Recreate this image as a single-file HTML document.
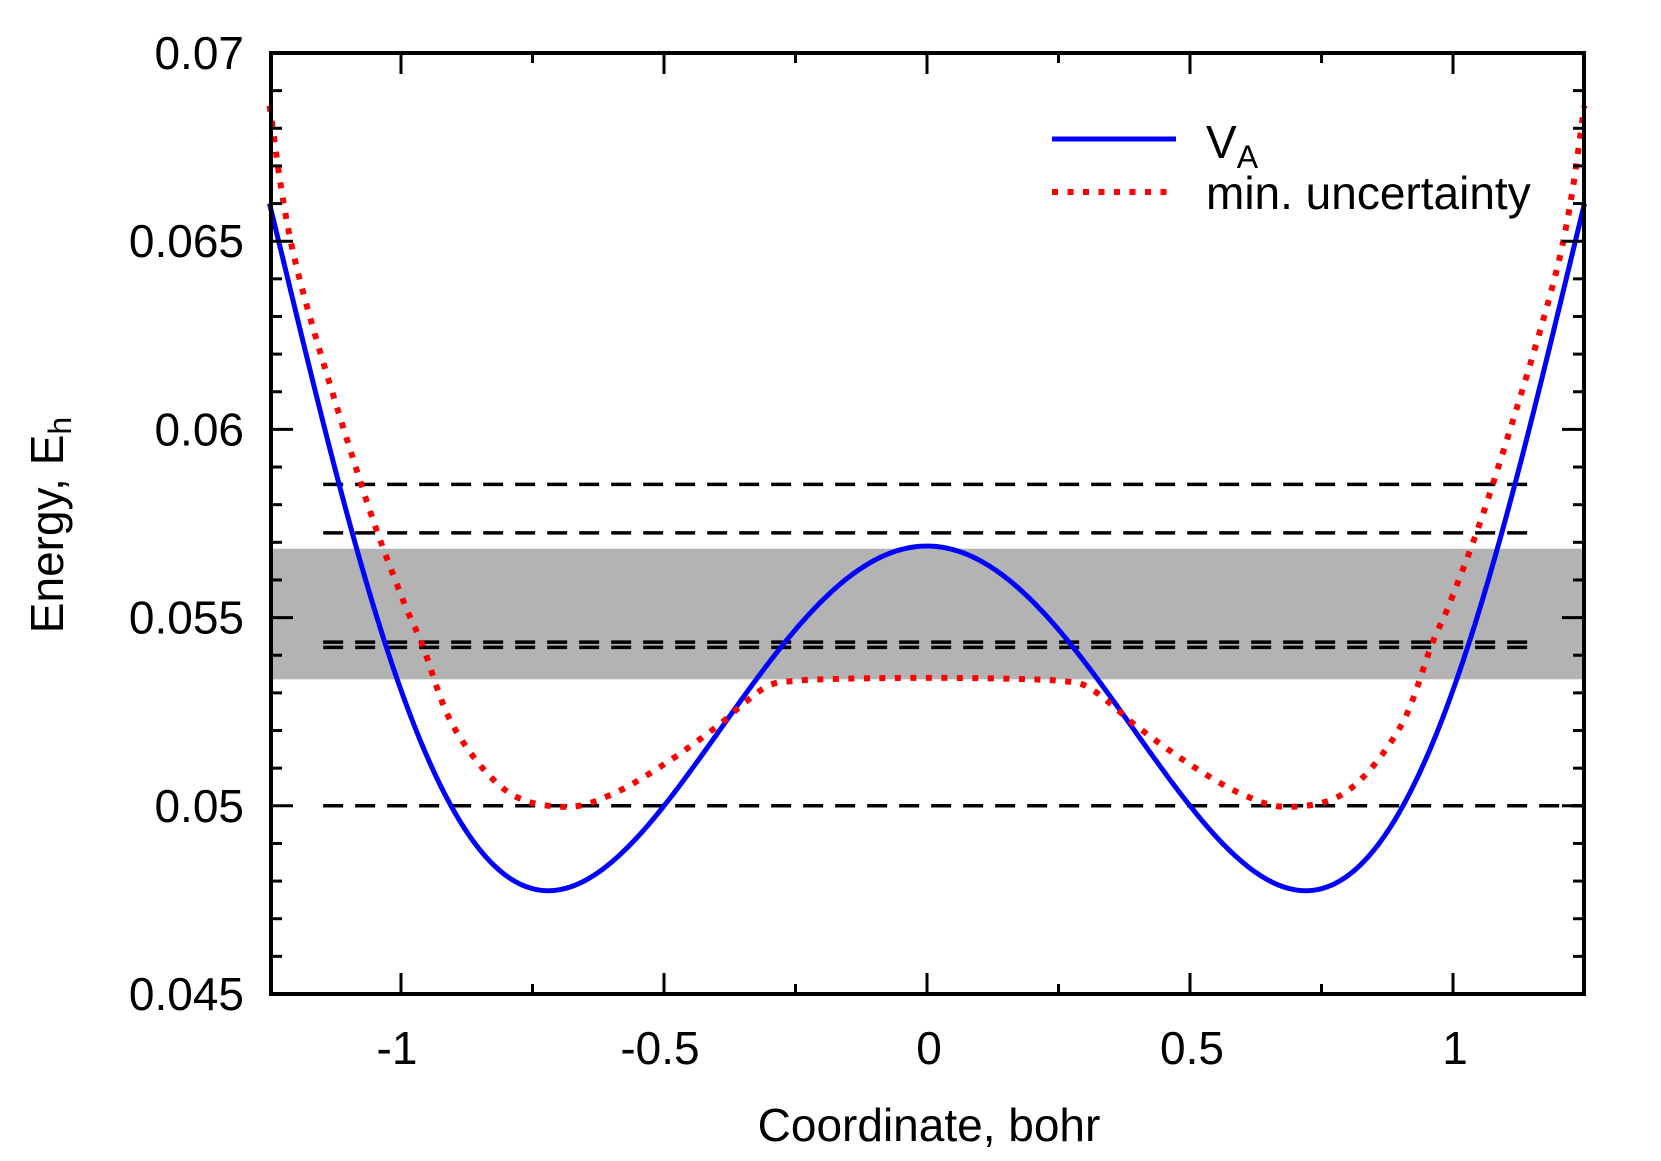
<!DOCTYPE html>
<html><head><meta charset="utf-8"><style>
html,body{margin:0;padding:0;background:#fff;}
svg{display:block;}
text{font-family:"Liberation Sans",sans-serif;font-size:46px;fill:#000;}
</style></head><body>
<svg id="s" width="1661" height="1161" viewBox="0 0 1661 1161" xmlns="http://www.w3.org/2000/svg">
<rect x="0" y="0" width="1661" height="1161" fill="#fff"/>
<g id="g"></g>
<text x="929" y="1141" text-anchor="middle">Coordinate, bohr</text>
<text transform="translate(63,525) rotate(-90)" text-anchor="middle">Energy, E<tspan font-size="32" dy="8">h</tspan></text>
<line x1="1052" y1="139" x2="1176" y2="139" stroke="#0000ff" stroke-width="5"/>
<line x1="1052" y1="192" x2="1176" y2="192" stroke="#ff0000" stroke-width="6" stroke-dasharray="6 9.5"/>
<text x="1206" y="158">V<tspan font-size="32" dy="10">A</tspan></text>
<text x="1206" y="209">min. uncertainty</text>
</svg>
<script>
var L=271,R=1584,T=53,B=994;
function X(x){return 927+x*526;}
function Y(v){return B-(v-0.045)/0.025*(B-T);}
var g=document.getElementById('g'),o='';
o+='<rect x="'+L+'" y="'+Y(0.05683)+'" width="'+(R-L)+'" height="'+(Y(0.05336)-Y(0.05683))+'" fill="#b3b3b3"/>';
[[0.05854,1.15],[0.05725,1.15],[0.05435,1.15],[0.05421,1.15],[0.05,1.25]].forEach(function(d){
 o+='<line x1="'+X(-1.148)+'" x2="'+X(d[1])+'" y1="'+Y(d[0])+'" y2="'+Y(d[0])+'" stroke="#000" stroke-width="3.5" stroke-dasharray="20 12"/>';});
var p='';
for(var i=0;i<=500;i++){var x=-1.25+2.5*i/500,u=x*x;var v=0.0569-0.0383*u+0.04556*u*u-0.011085*u*u*u;p+=(i?'L':'M')+X(x).toFixed(2)+' '+Y(v).toFixed(2);}
o+='<path d="'+p+'" fill="none" stroke="#0000ff" stroke-width="5"/>';
var pts=[[0,0.0534],[0.1,0.05339],[0.2,0.05336],[0.25,0.05332],[0.3,0.0532],[0.35,0.0527],[0.4,0.0521],[0.5,0.0511],[0.6,0.0503],[0.69,0.04997],[0.8,0.0504],[0.9,0.0521],[0.96,0.0543],[1.0,0.0556],[1.077,0.0586],[1.2,0.0644],[1.25,0.0686]];
var all=[];for(var k=pts.length-1;k>0;k--)all.push([-pts[k][0],pts[k][1]]);all=all.concat(pts);
var P=all.map(function(q){return [X(q[0]),Y(q[1])];});
var d='M'+P[0][0]+' '+P[0][1];
for(var k=0;k<P.length-1;k++){var p0=P[Math.max(0,k-1)],p1=P[k],p2=P[k+1],p3=P[Math.min(P.length-1,k+2)];
 d+='C'+(p1[0]+(p2[0]-p0[0])/6)+' '+(p1[1]+(p2[1]-p0[1])/6)+' '+(p2[0]-(p3[0]-p1[0])/6)+' '+(p2[1]-(p3[1]-p1[1])/6)+' '+p2[0]+' '+p2[1];}
o+='<path d="'+d+'" fill="none" stroke="#ff0000" stroke-width="6" stroke-dasharray="6 9.5"/>';
for(var j=0;j<=25;j++){var v=0.045+j*0.001,y=Y(v),len=(j%5==0)?22:11;
 o+='<line x1="'+L+'" x2="'+(L+len)+'" y1="'+y+'" y2="'+y+'" stroke="#000" stroke-width="3"/>';
 o+='<line x1="'+R+'" x2="'+(R-len)+'" y1="'+y+'" y2="'+y+'" stroke="#000" stroke-width="3"/>';
 if(j%5==0){var lab=['0.045','0.05','0.055','0.06','0.065','0.07'][j/5];o+='<text x="244" y="'+(y+16)+'" text-anchor="end">'+lab+'</text>';}}
for(var j=-4;j<=4;j++){var x=X(j*0.25),len=(j%2==0)?21:10;
 o+='<line x1="'+x+'" x2="'+x+'" y1="'+B+'" y2="'+(B-len)+'" stroke="#000" stroke-width="3"/>';
 o+='<line x1="'+x+'" x2="'+x+'" y1="'+T+'" y2="'+(T+len)+'" stroke="#000" stroke-width="3"/>';
 if(j%2==0){var lab={'-4':'-1','-2':'-0.5','0':'0','2':'0.5','4':'1'}[j];o+='<text x="'+(x+(j<0?-4:2))+'" y="1064" text-anchor="middle">'+lab+'</text>';}}
o+='<rect x="'+L+'" y="'+T+'" width="'+(R-L)+'" height="'+(B-T)+'" fill="none" stroke="#000" stroke-width="4"/>';
g.innerHTML=o;
</script>
</body></html>
